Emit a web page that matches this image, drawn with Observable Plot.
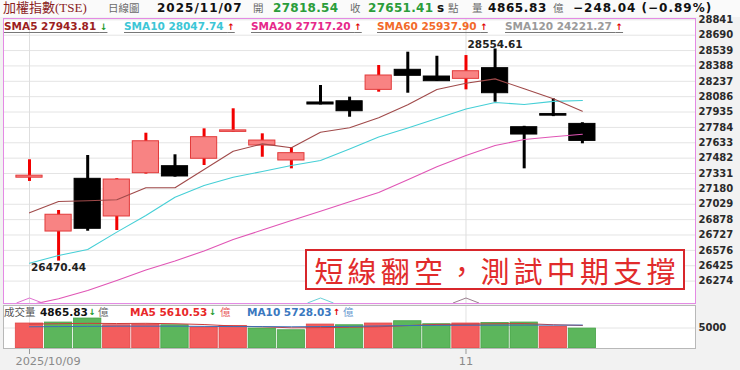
<!DOCTYPE html>
<html><head><meta charset="utf-8">
<script src="https://cdn.jsdelivr.net/npm/d3@7"></script>
<script src="https://cdn.jsdelivr.net/npm/@observablehq/plot@0.6"></script>
<style>
body{margin:0;background:#f2f2f2;}
#wrap{position:relative;width:740px;height:370px;overflow:hidden;font-family:"DejaVu Sans",sans-serif;}
#wrap svg{position:absolute;left:0;}
.t{position:absolute;white-space:nowrap;line-height:14px;}
.g{color:#6a6a6a;font-family:"Noto Sans CJK TC",sans-serif;font-size:10.5px;}
.b{font-weight:bold;font-size:12px;}
.lg{font-weight:bold;font-size:10.5px;text-decoration:underline;text-decoration-color:#777;text-underline-offset:2px;}
.ar{font-size:9px;font-weight:bold;}
.ar2{font-size:8.5px;font-weight:bold;}
#hdr{position:absolute;left:0;top:0;width:740px;height:17px;background:#fafafa;}
#note{position:absolute;left:305px;top:249px;width:380px;height:41px;box-sizing:border-box;border:2px solid #d8262b;background:#fff;
display:flex;align-items:center;justify-content:center;font-family:"Noto Sans CJK TC",sans-serif;font-size:29px;color:#e12b2b;letter-spacing:4.2px;padding-left:4px;}
</style></head><body><div id="wrap"><div id="hdr"></div></div>
<script>
const dates = ["2025/10/09","2025/10/13","2025/10/14","2025/10/15","2025/10/16","2025/10/17","2025/10/20","2025/10/21","2025/10/22","2025/10/23",
  "2025/10/27","2025/10/28","2025/10/29","2025/10/30","2025/10/31","2025/11/03","2025/11/04","2025/11/05","2025/11/06","2025/11/07"];
const open  = [27290, 26761, 27279, 26909, 27334, 27403, 27476, 27740, 27606, 27459, 28029, 28041, 28153, 28350, 28284, 28261, 28366, 27786, 27915, 27818.54];
const high  = [27466, 26968, 27508, 27280, 27727, 27515, 27770, 27967, 27721, 27584, 28196, 28081, 28392, 28523, 28483, 28490, 28554.61, 27795, 28065, 27830];
const low   = [27253, 26470.44, 26764, 26771, 27325, 27295, 27410, 27735, 27491, 27377, 28005, 27884, 28130, 28120, 28235, 28153, 28032, 27377, 27890, 27623];
const close = [27310, 26926, 26788, 27272, 27648, 27302, 27688, 27755, 27655, 27531, 28009, 27943, 28294, 28291, 28238, 28336, 28120, 27714, 27899.45, 27651.41];
const sma5  = [26945, 27056, 27063, 27073, 27191, 27191, 27371, 27550, 27622, 27584, 27737, 27780, 27879, 28006, 28156, 28218, 28261, 28163, 28065, 27943.81];
const sma10 = [26450, 26526, 26585, 26755, 26919, 27098, 27213, 27295, 27351, 27410, 27459, 27571, 27690, 27778, 27871, 27965, 28029, 28009, 28040, 28047.74];
const sma20 = [26040, 26100, 26182, 26280, 26383, 26472, 26570, 26683, 26776, 26870, 26961, 27053, 27145, 27270, 27397, 27508, 27606, 27665, 27692, 27717.20];
const sma60Last = 25937.90, sma120Last = 24221.27;
const volume = [6100, 6340, 7320, 5680, 5850, 5680, 5120, 5510, 4880, 4460, 5850, 5680, 6100, 6660, 5930, 6100, 6240, 6340, 5270, 4865.83];
const volMA5  = [5950, 6050, 6150, 6100, 6150, 6050, 5850, 5500, 5300, 5050, 5100, 5200, 5300, 5600, 5880, 5920, 6030, 6080, 5800, 5610.53];
const volMA10 = [5300, 5350, 5400, 5450, 5450, 5450, 5400, 5350, 5350, 5300, 5350, 5400, 5500, 5600, 5650, 5680, 5700, 5710, 5700, 5728.03];
const priceTicks = [28841, 28690, 28539, 28388, 28237, 28086, 27935, 27784, 27633, 27482, 27331, 27180, 27029, 26878, 26727, 26576, 26425, 26274];
const volTicks = [5000];
const dateTickIdx = [0, 15];
const dateTickLabels = ["2025/10/09", "11"];
const markerIdx = [0, 10, 15];
const markerColors = ["#e070d0", "#6cd0d8", "#9a8090"];

const rows = dates.map((d, i) => ({
  i, d, o: open[i], h: high[i], l: low[i], c: close[i],
  s5: sma5[i], s10: sma10[i], s20: sma20[i],
  v: volume[i], vm5: volMA5[i], vm10: volMA10[i],
  up: close[i] >= open[i], vup: i === 0 || close[i] >= close[i - 1]
}));
const xDom = [-0.893, 22.887];
const yDom = [26054, 28854];
const iLow = d3.minIndex(low), iHigh = d3.maxIndex(high);
const markers = markerIdx.map((m, k) => ({i: m, col: markerColors[k]}));
const chevron = {draw(ctx, size) { const r = Math.sqrt(size / Math.PI); ctx.moveTo(-r, 2.5); ctx.lineTo(0, -2.5); ctx.lineTo(r, 2.5); }};
const lblFont = {fontFamily: "DejaVu Sans", fontSize: 10.5, fontWeight: "bold", fill: "#222"};

const main = Plot.plot({
  width: 740, height: 305, marginTop: 18, marginBottom: 2, marginLeft: 3, marginRight: 45,
  x: {type: "linear", domain: xDom, axis: null, label: null},
  y: {domain: yDom, axis: null, label: null},
  color: {type: "identity"},
  style: {background: "transparent", fontFamily: "DejaVu Sans", color: "#333"},
  marks: [
    Plot.frame({fill: "white", stroke: "none"}),
    Plot.gridY(priceTicks, {stroke: "#e4e4e4", strokeOpacity: 1}),
    Plot.ruleX(dateTickIdx, {stroke: "#dedede"}),
    Plot.ruleX(rows, {x: "i", y1: "l", y2: "h", stroke: d => d.up ? "#f20000" : "#000", strokeWidth: 3}),
    Plot.rect(rows, {x1: d => d.i - 0.45, x2: d => d.i + 0.45, y1: "o", y2: "c",
      fill: d => d.up ? "#f88383" : "#000", stroke: d => d.up ? "#e23a3a" : "#000", strokeWidth: 1}),
    Plot.line(rows, {x: "i", y: "s20", stroke: "#e055b5", strokeWidth: 1.1, clip: true}),
    Plot.line(rows, {x: "i", y: "s10", stroke: "#45cfd6", strokeWidth: 1.1, clip: true}),
    Plot.line(rows, {x: "i", y: "s5", stroke: "#a04a4a", strokeWidth: 1.1, clip: true}),
    Plot.text([rows[iLow]], {x: "i", y: "l", text: d => d.l.toFixed(2), lineAnchor: "top", dy: 2, ...lblFont}),
    Plot.text([rows[iHigh]], {x: "i", y: "h", text: d => d.h.toFixed(2), lineAnchor: "bottom", dy: -1, ...lblFont}),
    Plot.dot(markers, {x: "i", y: () => yDom[0], dy: -3, symbol: chevron, r: 13, stroke: "col", fill: "none", strokeWidth: 1}),
    Plot.axisY(priceTicks, {anchor: "right", tickSize: 0, tickPadding: 3, tickFormat: d => String(d), label: null,
      fontSize: 10, fontWeight: "bold", fill: "#2a2a2a", fontFamily: "DejaVu Sans", letterSpacing: 0.5}),
    Plot.frame({stroke: "#e48ae4"})
  ]
});
main.style.top = "0px";

const vol = Plot.plot({
  width: 740, height: 65, marginTop: 0, marginBottom: 22, marginLeft: 3, marginRight: 45,
  x: {type: "linear", domain: xDom, axis: null, label: null},
  y: {domain: [0, 10500], axis: null, label: null},
  color: {type: "identity"},
  style: {background: "transparent", fontFamily: "DejaVu Sans", color: "#333"},
  marks: [
    Plot.frame({fill: "white", stroke: "none"}),
    Plot.gridY(volTicks, {stroke: "#e4e4e4", strokeOpacity: 1}),
    Plot.ruleX(dateTickIdx, {stroke: "#e2e2e2"}),
    Plot.rect(rows, {x1: d => d.i - 0.47, x2: d => d.i + 0.47, y1: 0, y2: "v",
      fill: d => d.vup ? "#f35d5d" : "#5cb65c", stroke: d => d.vup ? "#e04848" : "#47a247", strokeWidth: 0.8}),
    Plot.line(rows, {x: "i", y: "vm5", stroke: "#d03a3a", strokeWidth: 1}),
    Plot.line(rows, {x: "i", y: "vm10", stroke: "#3a70b8", strokeWidth: 1}),
    Plot.axisY(volTicks, {anchor: "right", tickSize: 0, tickPadding: 3, tickFormat: d => String(d), label: null,
      fontSize: 10, fontWeight: "bold", fill: "#2a2a2a", fontFamily: "DejaVu Sans", letterSpacing: 0.5}),
    Plot.axisX(dateTickIdx, {anchor: "bottom", tickSize: 6, tickFormat: () => "", label: null, stroke: "#999"}),
    Plot.text([dateTickIdx[0]], {x: d => d, frameAnchor: "bottom", dy: 16, textAnchor: "start", dx: -14,
      text: () => dateTickLabels[0], fill: "#8a8a8a", fontSize: 11.3, fontFamily: "DejaVu Sans"}),
    Plot.text([dateTickIdx[1]], {x: d => d, frameAnchor: "bottom", dy: 16, textAnchor: "middle",
      text: () => dateTickLabels[1], fill: "#8a8a8a", fontSize: 11.3, fontFamily: "DejaVu Sans"}),
    Plot.frame({stroke: "#b8b8b8"})
  ]
});
vol.style.top = "305px";

const wrap = document.getElementById("wrap");
wrap.appendChild(main);
wrap.appendChild(vol);

function span(left, top, text, cls, style) {
  const s = document.createElement("span");
  s.className = "t " + (cls || "");
  s.style.left = left + "px"; s.style.top = top + "px";
  if (style) Object.assign(s.style, style);
  s.innerHTML = text;
  wrap.appendChild(s);
  return s;
}
const fmt2 = d3.format(".2f");
const lastI = dates.length - 1;
const chg = close[lastI] - close[lastI - 1];
const pct = chg / close[lastI - 1] * 100;
const up = '<span class="ar" style="color:#e00000">↑</span>';
const dn = '<span class="ar" style="color:#1a9a2a">↓</span>';
const arrow = (a, b) => a >= b ? up : dn;
const arrowSpan = (x, a, b) => span(x, 305, a >= b ? "↑" : "↓", "ar2", {color: a >= b ? "#e00000" : "#1a9a2a"});
// header row
span(3, 1, "加權指數(TSE)", "", {color: "#8b1e1e", fontFamily: "'Liberation Serif','Noto Sans CJK TC',serif", fontSize: "13px"});
span(108, 1, "日線圖", "g");
span(157, 1, dates[lastI], "b", {color: "#111", letterSpacing: "1px"});
span(253, 1, "開", "g");
span(273, 1, fmt2(open[lastI]), "b", {color: "#2a9d3a", letterSpacing: "0.3px"});
span(350, 1, "收", "g");
span(368, 1, fmt2(close[lastI]), "b", {color: "#2a9d3a", letterSpacing: "0.3px"});
span(437, 1, "s", "b", {color: "#111"});
span(448, 1, "點", "g");
span(472, 1, "量", "g");
span(488, 1, fmt2(volume[lastI]), "b", {color: "#111", letterSpacing: "0.6px"});
span(553, 1, "億", "g");
span(573, 1, `${fmt2(chg)} (${fmt2(pct)}%)`, "b", {color: "#111", letterSpacing: "1px"});
// SMA legend
const legend = [
  [4, "SMA5", sma5[lastI], "#9c1e1e", arrow(sma5[lastI], sma5[lastI - 1])],
  [124, "SMA10", sma10[lastI], "#3cc6d6", arrow(sma10[lastI], sma10[lastI - 1])],
  [251, "SMA20", sma20[lastI], "#e6288a", arrow(sma20[lastI], sma20[lastI - 1])],
  [377, "SMA60", sma60Last, "#f26a2a", up],
  [505, "SMA120", sma120Last, "#9a9a9a", up]
];
legend.forEach(([x, n, v, c, a]) => span(x, 19, `${n} ${fmt2(v)} ${a}`, "lg", {color: c}));
// volume legend
span(4, 305, "成交量", "g", {color: "#555"});
span(40, 305, fmt2(volume[lastI]), "b", {color: "#111", fontSize: "10.5px"});
arrowSpan(88.5, volume[lastI], volume[lastI - 1]);
span(98, 305, "億", "g");
span(130, 305, "MA5 " + fmt2(volMA5[lastI]), "b", {color: "#e82828", fontSize: "10.5px"});
arrowSpan(209, volMA5[lastI], volMA5[lastI - 1]);
span(220, 305, "億", "g", {color: "#e86060"});
span(247, 305, "MA10 " + fmt2(volMA10[lastI]), "b", {color: "#3a78c0", fontSize: "10.5px"});
arrowSpan(333, volMA10[lastI], volMA10[lastI - 1]);
span(343, 305, "億", "g", {color: "#6a9ad0"});
// annotation
const note = document.createElement("div");
note.id = "note"; note.textContent = "短線翻空，測試中期支撐";
wrap.appendChild(note);
</script></body></html>
